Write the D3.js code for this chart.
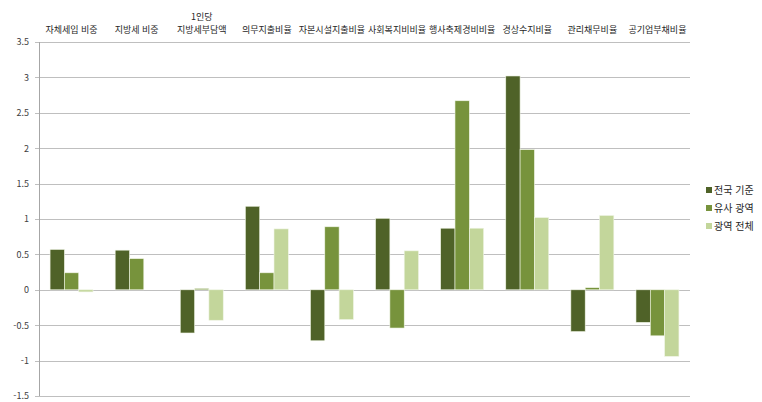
<!DOCTYPE html>
<html lang="ko">
<head>
  <meta charset="UTF-8">
  <title>지표별 비교</title>
  <script src="https://d3js.org/d3.v7.min.js"></script>
  <style>
    body { margin: 0; background: #fff; font-family: "Noto Sans CJK KR", sans-serif; }
    .tick text { fill: #404040; font-size: 9px; font-family: "Noto Sans CJK KR", sans-serif; }
  </style>
</head>
<body>
  <svg width="762" height="402"></svg>
  <script>
    const categories = [
      ["자체세입 비중"], ["지방세 비중"], ["1인당", "지방세부담액"], ["의무지출비율"],
      ["자본시설지출비율"], ["사회복지비비율"], ["행사축제경비비율"], ["경상수지비율"],
      ["관리채무비율"], ["공기업부채비율"]
    ];
    const seriesNames = ["전국 기준", "유사 광역", "광역 전체"];
    const nationwide = [0.57, 0.56, -0.61, 1.18, -0.72, 1.01, 0.87, 3.02, -0.59, -0.46];
    const similar    = [0.24, 0.44, 0.02, 0.24, 0.89, -0.54, 2.67, 1.98, 0.03, -0.65];
    const allMetro   = [-0.03, null, -0.43, 0.86, -0.42, 0.55, 0.87, 1.02, 1.05, -0.94];
    const yTicks = [3.5, 3, 2.5, 2, 1.5, 1, 0.5, 0, -0.5, -1, -1.5];
    const colors = ["#4f6228", "#77933c", "#c3d69b"];

    const svg = d3.select("svg");
    const margin = { left: 39, right: 72, top: 42, bottom: 6 };
    const width = 762, height = 402;
    const series = [nationwide, similar, allMetro];

    const x = d3.scaleBand()
      .domain(d3.range(categories.length))
      .range([margin.left, width - margin.right])
      .paddingInner(0.34).paddingOuter(0.17);
    const xs = d3.scaleBand().domain(d3.range(3)).range([0, x.bandwidth()]);
    const y = d3.scaleLinear().domain([-1.5, 3.5]).range([height - margin.bottom, margin.top]);

    // grid
    svg.append("g")
      .selectAll("line").data(yTicks).join("line")
      .attr("x1", margin.left - 4).attr("x2", width - margin.right)
      .attr("y1", d => Math.round(y(d)) + 0.5).attr("y2", d => Math.round(y(d)) + 0.5)
      .attr("stroke", "#bfbfbf").attr("stroke-width", 1.2);

    const yAxis = svg.append("g")
      .attr("transform", `translate(${margin.left - 4},0)`)
      .call(d3.axisLeft(y).tickValues(yTicks).tickSize(0).tickPadding(6).tickFormat(d => String(d)));
    yAxis.select(".domain").remove();

    svg.append("line")
      .attr("x1", margin.left + 0.5).attr("x2", margin.left + 0.5)
      .attr("y1", y(3.5)).attr("y2", y(-1.5))
      .attr("stroke", "#a6a6a6");

    // bars
    series.forEach((vals, s) => {
      svg.append("g").selectAll("rect")
        .data(vals.map((v, i) => ({ v, i })).filter(d => d.v !== null))
        .join("rect")
        .attr("x", d => x(d.i) + xs(s))
        .attr("width", xs.bandwidth())
        .attr("y", d => y(Math.max(0, d.v)))
        .attr("height", d => Math.abs(y(d.v) - y(0)))
        .attr("fill", colors[s])
        .attr("stroke", "#f0f5e6").attr("stroke-width", 0.6);
    });

    // category labels at top
    const lab = svg.append("g").selectAll("text").data(categories).join("text")
      .attr("text-anchor", "middle")
      .attr("font-size", "9px")
      .attr("fill", "#262626")
      .attr("x", (d, i) => x(i) + x.bandwidth() / 2)
      .attr("y", 33);
    lab.each(function (d) {
      const t = d3.select(this);
      d.forEach((line, k) => {
        t.append("tspan")
          .attr("x", t.attr("x"))
          .attr("dy", k === 0 ? (d.length > 1 ? "-1.45em" : 0) : "1.45em")
          .text(line);
      });
    });

    // legend
    const legend = svg.append("g").attr("transform", "translate(706,187)");
    seriesNames.forEach((n, i) => {
      const g = legend.append("g").attr("transform", `translate(0,${i * 18})`);
      g.append("rect").attr("width", 6).attr("height", 6).attr("fill", colors[i]);
      g.append("text").attr("x", 8).attr("y", 7).attr("font-size", "10px")
        .attr("fill", "#262626").text(n);
    });
  </script>
</body>
</html>
